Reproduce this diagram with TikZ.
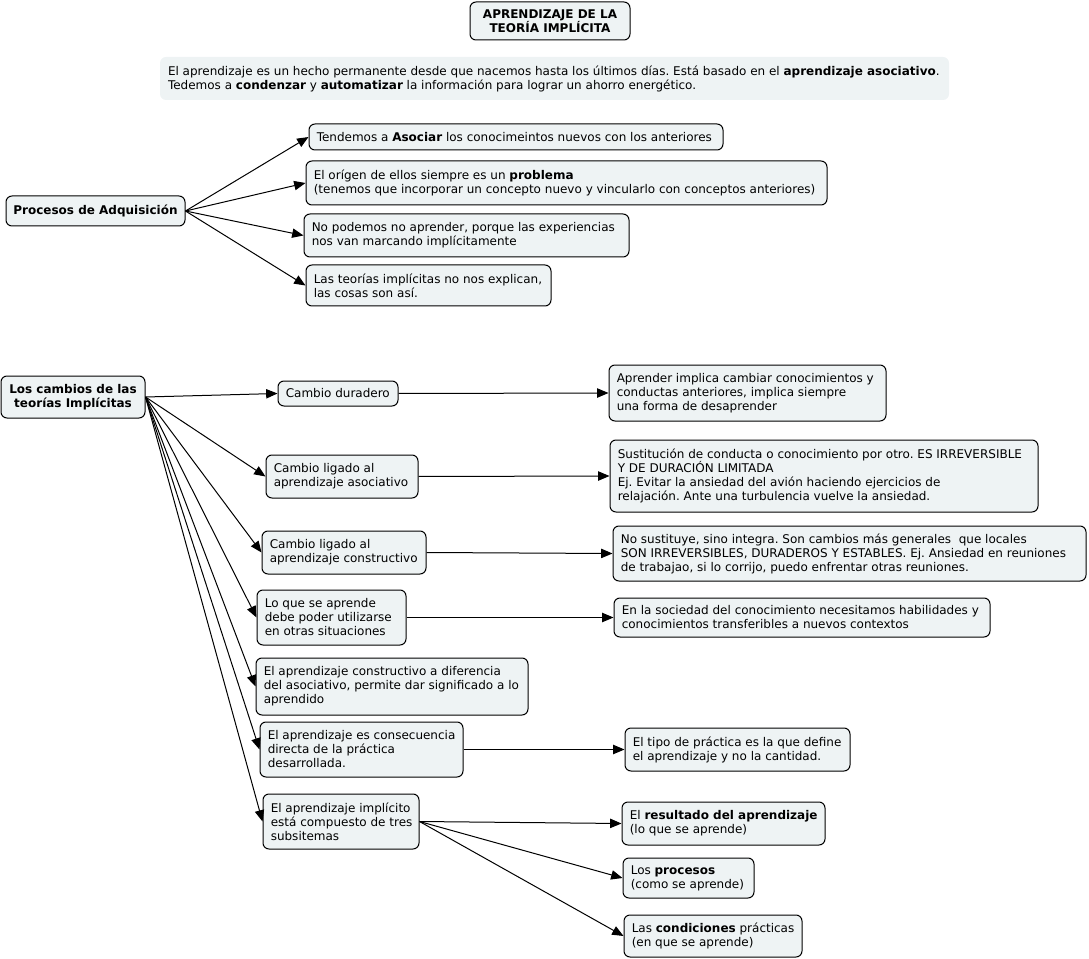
\documentclass[tikz,border=0pt]{standalone}
\usepackage{fontspec}
\setmainfont{DejaVu Sans}
\usetikzlibrary{arrows.meta}
\definecolor{boxfill}{HTML}{EEF3F4}
\frenchspacing
\tikzset{
  box/.style={draw=black, line width=0.75pt, fill=boxfill, rounded corners=4.5pt, inner sep=0pt},
  plain/.style={fill=boxfill, rounded corners=4.5pt, inner sep=0pt},
  txt/.style={inner sep=0pt, font=\fontsize{9}{10.5}\selectfont, align=left},
  ctxt/.style={inner sep=0pt, font=\fontsize{9}{10.5}\selectfont\bfseries, align=center},
  conn/.style={line width=0.75pt, -{Triangle[length=8.5pt,width=7pt]}},
}
% left-aligned text box
\newcommand\bx[7][box]{%
  \node[#1, minimum width={(#5-#3)*0.75pt}, minimum height={(#6-#4)*0.75pt}] (#2) at ({(#3+#5)/2},{(#4+#6)/2}) {};
  \node[txt, anchor=west] (#2t) at ([xshift=6pt]#2.west) {#7};}
% centred bold text box
\newcommand\cx[6]{%
  \node[box, minimum width={(#4-#2)*0.75pt}, minimum height={(#5-#3)*0.75pt}] (#1) at ({(#2+#4)/2},{(#3+#5)/2}) {};
  \node[ctxt] (#1t) at (#1.center) {#6};}
\begin{document}
\begin{tikzpicture}[x=0.75pt,y=-0.75pt]
\useasboundingbox (0,0) rectangle (1089,959);
% title and intro
\cx{title}{470}{2}{630}{40}{APRENDIZAJE DE LA\\TEORÍA IMPLÍCITA}
\bx[plain]{intro}{160}{57}{949}{100}{El aprendizaje es un hecho permanente desde que nacemos hasta los últimos días. Está basado en el \textbf{aprendizaje asociativo}.\\Tedemos a \textbf{condenzar} y \textbf{automatizar} la información para lograr un ahorro energético.}
% Procesos de adquisicion
\cx{pa}{6}{196}{185}{226}{Procesos de Adquisición}
\bx{a1}{309}{124}{723}{150}{Tendemos a \textbf{Asociar} los conocimeintos nuevos con los anteriores}
\bx{a2}{306}{161}{827}{205}{El orígen de ellos siempre es un \textbf{problema}\\(tenemos que incorporar un concepto nuevo y vincularlo con conceptos anteriores)}
\bx{a3}{304}{214}{629}{257}{No podemos no aprender, porque las experiencias\\nos van marcando implícitamente}
\bx{a4}{306}{265}{551}{306}{Las teorías implícitas no nos explican,\\las cosas son así.}
\foreach \t in {a1,a2,a3,a4} \draw[conn] (pa.east) -- (\t.west);
% Los cambios
\cx{lc}{1}{376}{145}{418}{Los cambios de las\\teorías Implícitas}
\bx{b1}{278}{381}{398}{406}{Cambio duradero}
\bx{b2}{266}{455}{418}{498}{Cambio ligado al\\aprendizaje asociativo}
\bx{b3}{262}{531}{426}{574}{Cambio ligado al\\aprendizaje constructivo}
\bx{b4}{257}{590}{406}{645}{Lo que se aprende\\debe poder utilizarse\\en otras situaciones}
\bx{b5}{256}{658}{528}{715}{El aprendizaje constructivo a diferencia\\del asociativo, permite dar significado a lo\\aprendido}
\bx{b6}{260}{722}{463}{777}{El aprendizaje es consecuencia\\directa de la práctica\\desarrollada.}
\bx{b7}{263}{794}{419}{849}{El aprendizaje implícito\\está compuesto de tres\\subsitemas}
\foreach \t in {b1,b2,b3,b4,b5,b6,b7} \draw[conn] (lc.east) -- (\t.west);
\bx{c1}{609}{365}{886}{421}{Aprender implica cambiar conocimientos y\\conductas anteriores, implica siempre\\una forma de desaprender}
\bx{c2}{610}{440}{1038}{512}{Sustitución de conducta o conocimiento por otro. ES IRREVERSIBLE\\Y DE DURACIÓN LIMITADA\\Ej. Evitar la ansiedad del avión haciendo ejercicios de\\relajación. Ante una turbulencia vuelve la ansiedad.}
\bx{c3}{613}{526}{1086}{581}{No sustituye, sino integra. Son cambios más generales\ \ que locales\\SON IRREVERSIBLES, DURADEROS Y ESTABLES. Ej. Ansiedad en reuniones\\de trabajao, si lo corrijo, puedo enfrentar otras reuniones.}
\bx{c4}{614}{598}{990}{637}{En la sociedad del conocimiento necesitamos habilidades y\\conocimientos transferibles a nuevos contextos}
\bx{c6}{625}{728}{850}{771}{El tipo de práctica es la que define\\el aprendizaje y no la cantidad.}
\draw[conn] (b1.east) -- (c1.west);
\draw[conn] (b2.east) -- (c2.west);
\draw[conn] (b3.east) -- (c3.west);
\draw[conn] (b4.east) -- (c4.west);
\draw[conn] (b6.east) -- (c6.west);
\bx{d1}{622}{802}{825}{845}{El \textbf{resultado del aprendizaje}\\(lo que se aprende)}
\bx{d2}{623}{858}{754}{898}{Los \textbf{procesos}\\(como se aprende)}
\bx{d3}{624}{915}{802}{957}{Las \textbf{condiciones} prácticas\\(en que se aprende)}
\foreach \t in {d1,d2,d3} \draw[conn] (b7.east) -- (\t.west);
\end{tikzpicture}
\end{document}
